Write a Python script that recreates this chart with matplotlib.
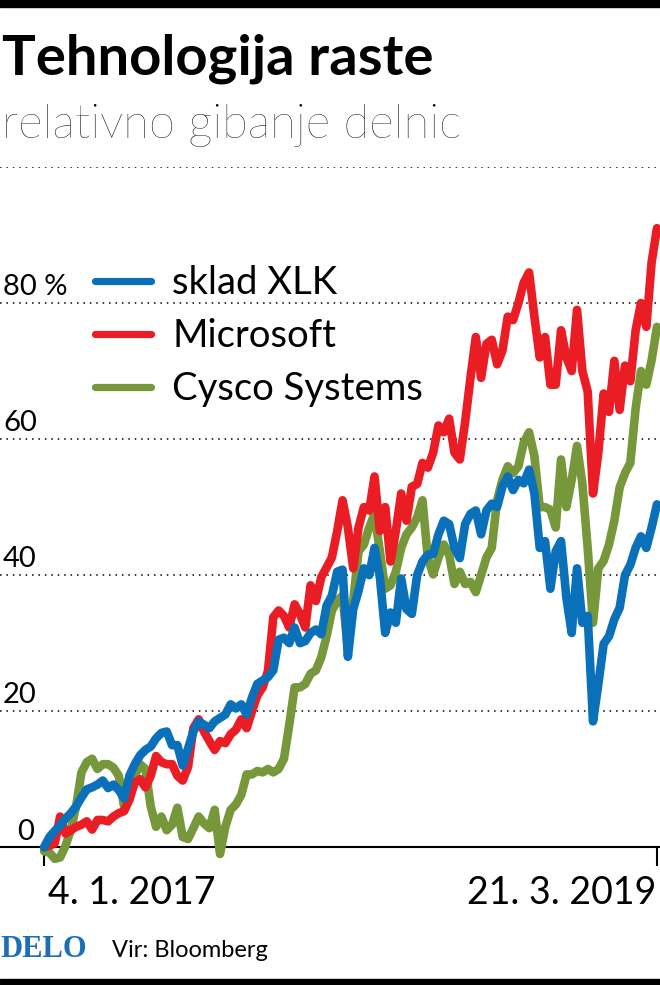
import matplotlib
matplotlib.use('Agg')
import matplotlib.pyplot as plt
from matplotlib.patches import Rectangle
import pandas as pd

# tedenske vrednosti (relativna sprememba v %), od 4. 1. 2017 do 21. 3. 2019
xlk = [0, 1.5, 2.4, 3.2, 4.2, 5, 6, 7.3, 8.5, 8.8, 9.2, 9.8, 8.7, 9.2, 8.4, 7.2, 10.5, 12.2, 13.5, 14.3,
       14.8, 16, 16.8, 17, 15, 15, 12, 14.5, 17, 18.5, 18, 17.5, 18.5, 19, 19.5, 21, 20.4, 21, 19.5, 22,
       24, 24.5, 25, 26, 30.5, 30.8, 30, 32.3, 30, 30.3, 31.5, 32, 31.3, 35.5, 37, 40.5, 40.8, 28, 35, 37.7,
       41, 40, 44, 39.7, 31.5, 34.5, 33, 39.5, 35, 34.3, 40, 42, 43, 43.1, 46, 48, 47.5, 44, 42.5,
       47.5, 49, 49.5, 46, 49.5, 50.5, 50, 53, 54.5, 52.5, 54, 53.5, 55.5, 52, 44, 45, 38, 43.5, 45, 36.7,
       31.5, 41, 33, 34, 18.5, 24, 29.9, 31, 33.5, 35.2, 40, 41.5, 44, 45.7, 44, 47, 50.4]
msft = [0, 0.2, 0.6, 4.5, 2, 2.5, 3, 3.3, 3.8, 2.6, 4, 4, 3.8, 4.5, 5, 5.3, 7, 9.5, 10, 8.8,
        10.5, 13.4, 12.5, 12.2, 12.2, 10.5, 9.8, 11.8, 17.5, 18.8, 17, 15.6, 14.3, 15.6, 15.3, 16.6, 17.3, 18.8, 17.5, 20,
        22.3, 23.5, 25.9, 33.8, 34.8, 34, 32.3, 35.7, 34.3, 32.3, 38.5, 36.2, 39.7, 41.1, 42.6, 46.5, 51, 47, 41, 47,
        50, 49.5, 54.5, 46.5, 50, 42, 46.5, 52, 48, 53, 53.4, 56.5, 55.8, 58, 62, 61, 63, 58, 57,
        62.5, 69, 75, 69, 74, 74.6, 71, 73, 78, 77.5, 80, 83, 84.5, 78, 72, 75, 68, 68, 76, 72,
        70, 79, 70, 67, 52, 58, 66.7, 64, 71.5, 64.3, 70.8, 68.5, 76, 80, 76.5, 86, 91]
csco = [-0.6, -0.8, -1.7, -1.5, 0.2, 2.5, 6, 11, 12.5, 13, 11.5, 12.2, 12.2, 11.7, 10.5, 6, 7, 10.5, 12.2, 11.5,
        6, 3, 4.5, 2.5, 3.3, 5.8, 1.5, 1.2, 2.8, 4.5, 3.5, 2.8, 5.5, -1, 3, 5.5, 6.3, 7.7, 10.7, 10.7,
        11.2, 11, 11.5, 11, 11.5, 13, 18, 23.5, 23.5, 24, 25.5, 26, 27.9, 31, 34.8, 36.2, 37, 29, 36.2, 43.5,
        44.5, 47, 49, 43.5, 38, 38.5, 40.5, 44, 46, 47, 48.5, 51, 42.5, 40.1, 42.6, 44.5, 43, 38.7, 40.5,
        38.7, 39, 37.5, 40, 42.6, 44, 51, 54, 56, 55, 56, 59.5, 61, 57.5, 50, 50, 49.6, 47, 57, 50,
        54, 59, 53.5, 44, 33, 41, 42.1, 44.5, 48, 52.9, 55, 56.5, 64.5, 70, 68, 71.6, 76.5]

datumi = pd.date_range('2017-01-04', periods=len(xlk), freq='7D')
imena = ['sklad XLK', 'Microsoft', 'Cysco Systems']
barve = ['#0a70b9', '#ea1d25', '#76983b']
mreza = [20, 40, 60, 80, 100]
oznake_y = ['20', '40', '60', '80 %']

W, H = 660, 985
fig = plt.figure(figsize=(W / 100, H / 100), dpi=100)

def fx(x):
    return x / W

def fy(y):
    return 1 - y / H

# os: vrh = 100 (y=167 px), dno = -3.5 (y=871 px)
ax = fig.add_axes([0, fy(871), 1, fy(167) - fy(871)])
ax.set_ylim(-3.5, 100)
ax.set_xlim(datumi[0] - pd.Timedelta(days=58), datumi[0] + pd.Timedelta(days=809))
ax.axis('off')

for v in mreza:
    ax.axhline(v, color='black', lw=1.1, ls=(0, (1, 3.2)), zorder=1)
ax.axhline(0, color='black', lw=1.5, zorder=1)
ax.vlines([datumi[0], datumi[-1]], -2.7, 0, color='black', lw=1.5)

for serija, barva, z in [(csco, barve[2], 2), (msft, barve[1], 3), (xlk, barve[0], 4)]:
    ax.plot(datumi, serija, color=barva, lw=6.2, solid_joinstyle='round',
            solid_capstyle='round', zorder=z)

pisava = ['Lato', 'DejaVu Sans']

# oznake na osi y
for v, t in zip(mreza[:4], oznake_y):
    ypix = 846 - v * 6.8
    fig.text(fx(3), fy(ypix - 7), t, ha='left', va='baseline', fontsize=21, family=pisava)
fig.text(fx(17), fy(840), '0', ha='left', va='baseline', fontsize=21, family=pisava)

# legenda
for i, (ime, barva) in enumerate(zip(imena, barve)):
    yl = 281 + i * 53
    fig.add_artist(plt.Line2D([fx(95), fx(151)], [fy(yl), fy(yl)], color=barva, lw=5.2,
                              solid_capstyle='round'))
    fig.text(fx(172), fy(yl + 13), ime, ha='left', va='baseline', fontsize=27.5, family=pisava)

# datumi
fig.text(fx(48), fy(904), '4. 1. 2017', ha='left', va='baseline', fontsize=27, family=pisava)
fig.text(fx(656), fy(904), '21. 3. 2019', ha='right', va='baseline', fontsize=27, family=pisava)

# naslov
fig.text(fx(2), fy(75), 'Tehnologija raste', ha='left', va='baseline', fontsize=40.5,
         fontweight='bold', family=pisava)
fig.text(fx(2), fy(138), 'relativno gibanje delnic', ha='left', va='baseline', fontsize=34,
         fontweight='light', family=pisava)

# noga
fig.text(fx(0), fy(957), 'DELO', ha='left', va='baseline', fontsize=22, fontweight='bold',
         family=['Liberation Serif', 'DejaVu Serif'], color='#1a6fb5')
fig.text(fx(112), fy(957), 'Vir: Bloomberg', ha='left', va='baseline', fontsize=17, family=pisava)

fig.add_artist(Rectangle((0, fy(7)), 1, fy(0) - fy(7), color='black', transform=fig.transFigure))
fig.add_artist(Rectangle((0, fy(985)), 1, fy(979) - fy(985), color='black', transform=fig.transFigure))

fig.savefig('out.png', dpi=100)
